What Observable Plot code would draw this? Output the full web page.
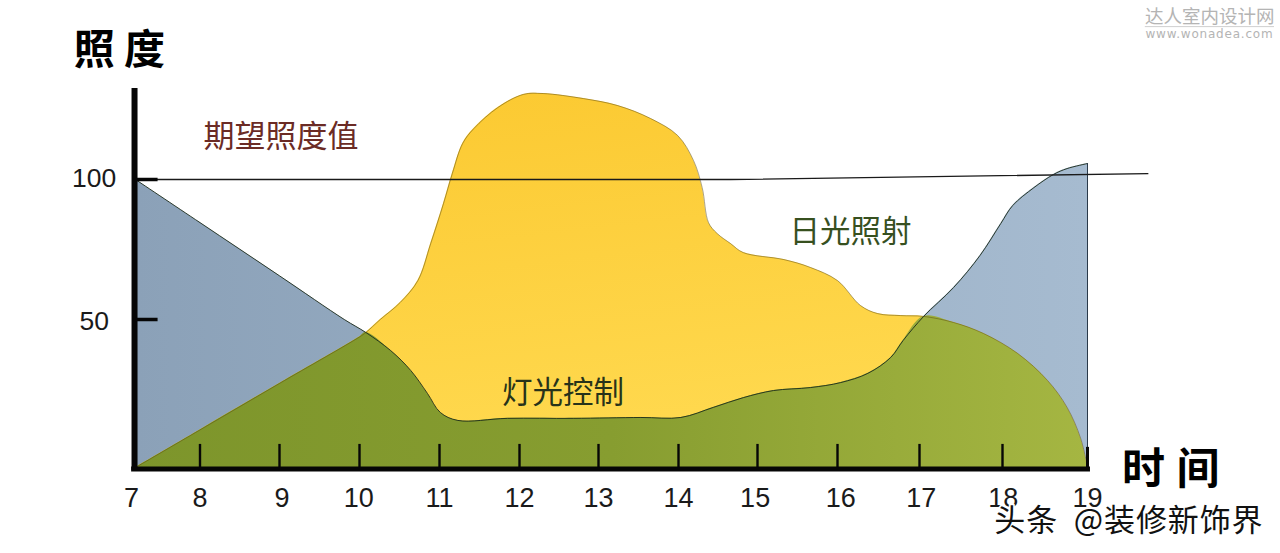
<!DOCTYPE html>
<html><head><meta charset="utf-8">
<script src="https://cdn.jsdelivr.net/npm/d3@7"></script>
<script src="https://cdn.jsdelivr.net/npm/@observablehq/plot@0.6"></script>
<style>
html,body{margin:0;padding:0;background:#fff}
svg{display:block}
</style></head><body><div id="c"></div>
<script>
const hours=[7,8,9,10,11,12,13,14,15,16,17,18,19];
const hourPixels=[135,199.5,279,359,439,519,598,678,757,837,919,1002,1087];
const hourLabelX=[6.94,8,9.03,9.99,11,12,13,14,14.97,16.04,17.02,18.01,19];
const levels=[50,100];
const levelLabelV=[49.3,100.4];
const daylightH=[7,8,9,10,10.08,10.26,10.51,10.73,10.89,11.05,11.16,11.29,11.43,11.73,12.05,12.3,12.81,13.24,13.65,13.99,14.19,14.3,14.38,14.49,14.66,14.82,15.33,15.66,16,16.28,16.49,16.77,17.05,17.41,17.77,18.18,18.53,18.76,18.92,19];
const daylightV=[0,12.7,28.4,44.1,45.6,50,56.1,63.9,77.1,91.4,102.1,112.9,118.2,125.7,130.4,130.7,128.9,126.4,121.8,115.7,106.8,97.1,84.6,80.7,77.1,73.9,71.4,68.6,63.9,55,52.1,51.4,51.1,49,45.3,38.5,29.4,20.3,9.8,0];
const controlH=[7,8,9,9.81,10.08,10.39,10.64,10.85,11.01,11.23,11.85,12.68,13.53,14.03,14.44,14.82,15.2,15.66,16.04,16.37,16.65,16.8,17.05,17.41,17.73,17.98,18.12,18.37,18.6,18.76,19];
const controlV=[100,84.6,65.6,50,45.6,39.5,32.8,25,18.6,15.9,16.6,16.6,16.9,16.9,20.3,23.6,26,27,28.7,31.8,37.2,42.9,51.1,61.4,72.9,84.3,90.7,97.1,101.8,103.9,105.7];
const overlapH=[7,8,9,10,10.08,10.39,10.64,10.85,11.01,11.23,11.85,12.68,13.53,14.03,14.44,14.82,15.2,15.66,16.04,16.37,16.65,16.8,17.05,17.41,17.77,18.18,18.53,18.76,18.92,19];
const overlapV=[0,12.7,28.4,44.1,45.6,39.5,32.8,25,18.6,15.9,16.6,16.6,16.9,16.9,20.3,23.6,26,27,28.7,31.8,37.2,42.9,51.1,49,45.3,38.5,29.4,20.3,9.8,0];
const targetH=[7,14.66,19.71];
const targetV=[100,100,102.1];
const labels=["期望照度值","日光照射","灯光控制"];
const labelH=[9.02,16.16,12.55];
const labelV=[115,81,25];
const labelColors=["#6b2b25","#37501f","#27331a"];
const axisChars=["照","度","时","间"];
const axisCharH=[6.36,7.14,19.66,20.3];
const axisCharV=[146,146,-1,-1];
const pts=(a,b)=>a.map((x,i)=>({x,y:b[i]}));
const daylight=pts(daylightH,daylightV),control=pts(controlH,controlV),overlap=pts(overlapH,overlapV),target=pts(targetH,targetV);
const grad=(id,stops,x2,y2)=>`<linearGradient id="${id}" x1="0" y1="0" x2="${x2}" y2="${y2}">`+stops.map(([o,c])=>`<stop offset="${o}" stop-color="${c}"/>`).join("")+`</linearGradient>`;
const defs=()=>{const g=document.createElementNS("http://www.w3.org/2000/svg","defs");
 g.innerHTML=grad("gb",[[0,"#8ba1b8"],[1,"#a6bbd0"]],1,0)+grad("gy",[[0,"#fbc82f"],[1,"#ffd94f"]],0.3,1)+grad("gg",[[0,"#7d952b"],[0.5,"#879d30"],[1,"#a5b642"]],1,0);return g;};
const spaced=px=>(i,s,v,d,c,next)=>{const g=next(i,s,v,d,c);g.style.letterSpacing=px+"px";return g;};
const font="'Noto Sans CJK SC'";
const num="'Liberation Sans'";
const crv="catmull-rom";
const plot=Plot.plot({
 width:1280,height:553,marginTop:0,marginBottom:0,marginLeft:0,marginRight:0,
 style:{background:"#fff"},
 x:{type:"linear",domain:hours,range:hourPixels,axis:null},
 y:{type:"linear",domain:[0,50,100],range:[467,319,179],axis:null},
 marks:[
  defs,
  Plot.areaY(control,{x:"x",y:"y",curve:crv,fill:"url(#gb)"}),
  Plot.areaY(daylight,{x:"x",y:"y",curve:crv,fill:"url(#gy)"}),
  Plot.areaY(overlap,{x:"x",y:"y",curve:crv,fill:"url(#gg)"}),
  Plot.line(daylight,{x:"x",y:"y",curve:crv,stroke:"#5a4a10",strokeWidth:0.7,strokeOpacity:.7}),
  Plot.line(control,{x:"x",y:"y",curve:crv,stroke:"#1d2b1a",strokeWidth:1,strokeOpacity:.9}),
  Plot.ruleX([19],{y1:0,y2:105.7,stroke:"#2a3a4a",strokeWidth:1}),
  Plot.line(target,{x:"x",y:"y",stroke:"#1a1a1a",strokeWidth:1.3}),
  Plot.ruleX([6.985],{y1:-1,y2:132.5,stroke:"#060606",strokeWidth:6}),
  Plot.ruleY([-0.5],{x1:6.94,x2:19.035,stroke:"#060606",strokeWidth:5}),
  Plot.ruleX(hours.slice(1,-1),{y1:0,y2:7.8,stroke:"#060606",strokeWidth:2.4}),
  Plot.ruleX([19],{y1:0,y2:6.8,stroke:"#060606",strokeWidth:3}),
  Plot.ruleY(levels,{x1:7,x2:7.35,stroke:"#060606",strokeWidth:3.5}),
  Plot.text(hours,{x:(d,i)=>hourLabelX[i],y:-10.3,text:d=>String(d),fontFamily:num,fontSize:27,fill:"#1a1a1a"}),
  Plot.text(levels,{x:6.36,y:(d,i)=>levelLabelV[i],text:d=>String(d),fontFamily:num,fontSize:26.5,fill:"#1a1a1a"}),
  ...axisChars.map((t,i)=>Plot.text([t],{x:axisCharH[i],y:axisCharV[i],fontFamily:font,fontSize:i<2?41:43,fontWeight:700,fill:"#000"})),
  ...labels.map((t,i)=>Plot.text([t],{x:labelH[i],y:labelV[i],fontFamily:font,fontSize:i==0?31:30.5,fill:labelColors[i]})),
  Plot.text(["达人室内设计网"],{frameAnchor:"top-right",dx:-6,dy:9,fontFamily:font,fontSize:18.5,fill:"#b4b4b4",lineAnchor:"top"}),
  Plot.ruleY([154.6],{x1:19.68,x2:21.2,stroke:"#cfcfcf",strokeWidth:1}),
  Plot.text(["www.wonadea.com"],{frameAnchor:"top-right",dx:-7,dy:29,fontFamily:"'DejaVu Sans'",fontSize:12,fill:"#b4b4b4",lineAnchor:"top",render:spaced(0.8)}),
  Plot.text(["头条  @装修新饰界"],{frameAnchor:"bottom-right",dx:-17,dy:-23,fontFamily:font,fontSize:31,fill:"#111",stroke:"#fff",strokeWidth:3.5,paintOrder:"stroke",lineAnchor:"bottom",render:spaced(0.9)})
 ]
});
document.getElementById("c").append(plot);
</script></body></html>
